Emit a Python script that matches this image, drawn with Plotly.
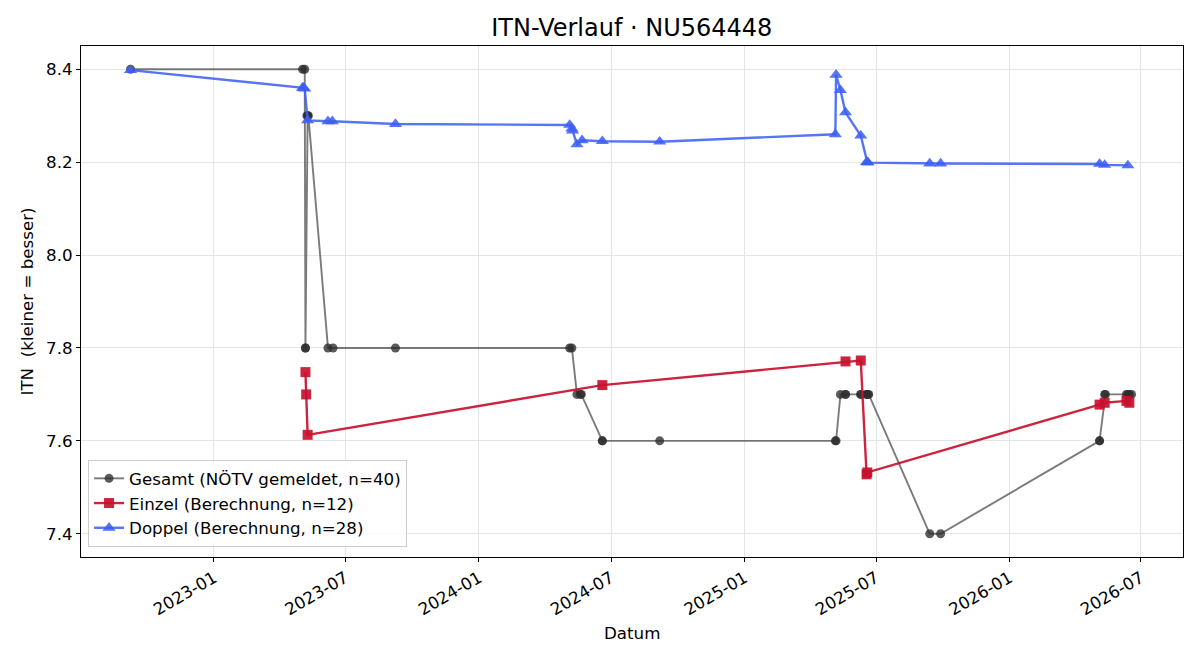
import plotly.graph_objects as go

# ---- data ----
gesamt_dates = [
    "2022-09-08", "2023-05-03", "2023-05-06", "2023-05-07", "2023-05-07",
    "2023-05-09", "2023-05-10", "2023-05-11", "2023-06-07", "2023-06-14",
    "2023-09-08", "2024-05-05", "2024-05-08", "2024-05-15", "2024-05-20",
    "2024-05-21", "2024-06-19", "2024-06-19", "2024-09-06", "2025-05-06",
    "2025-05-07", "2025-05-13", "2025-05-20", "2025-05-20", "2025-06-10",
    "2025-06-10", "2025-06-18", "2025-06-18", "2025-06-20", "2025-06-21",
    "2025-09-13", "2025-09-28", "2026-05-05", "2026-05-05", "2026-05-12",
    "2026-05-13", "2026-06-11", "2026-06-13", "2026-06-15", "2026-06-18",
]
gesamt_itn = [
    8.4, 8.4, 8.4, 7.8, 7.8,
    8.3, 8.3, 8.3, 7.8, 7.8,
    7.8, 7.8, 7.8, 7.7, 7.7,
    7.7, 7.6, 7.6, 7.6, 7.6,
    7.6, 7.7, 7.7, 7.7, 7.7,
    7.7, 7.7, 7.7, 7.7, 7.7,
    7.4, 7.4, 7.6, 7.6, 7.7,
    7.7, 7.7, 7.7, 7.7, 7.7,
]

einzel_dates = [
    "2023-05-07", "2023-05-08", "2023-05-10", "2024-06-19",
    "2025-05-20", "2025-06-10", "2025-06-18", "2025-06-19",
    "2026-05-05", "2026-05-12", "2026-06-11", "2026-06-15",
]
einzel_itn = [
    7.748, 7.700, 7.613, 7.720,
    7.771, 7.773, 7.528, 7.532,
    7.678, 7.682, 7.686, 7.682,
]

doppel_dates = [
    "2022-09-08", "2023-05-03", "2023-05-04", "2023-05-06", "2023-05-10",
    "2023-06-07", "2023-06-13", "2023-09-08", "2024-05-05", "2024-05-08",
    "2024-05-09", "2024-05-15", "2024-05-22", "2024-06-19", "2024-09-06",
    "2025-05-06", "2025-05-07", "2025-05-13", "2025-05-20", "2025-06-10",
    "2025-06-18", "2025-06-19", "2025-06-20", "2025-09-13", "2025-09-28",
    "2026-05-05", "2026-05-12", "2026-06-13",
]
doppel_itn = [
    8.398, 8.360, 8.360, 8.358, 8.290,
    8.288, 8.288, 8.282, 8.280, 8.272,
    8.268, 8.238, 8.247, 8.245, 8.244,
    8.260, 8.388, 8.355, 8.307, 8.257,
    8.200, 8.200, 8.199, 8.197, 8.197,
    8.196, 8.194, 8.193,
]

x_tickvals = ["2023-01-01", "2023-07-01", "2024-01-01", "2024-07-01",
              "2025-01-01", "2025-07-01", "2026-01-01", "2026-07-01"]
x_ticktext = ["2023-01", "2023-07", "2024-01", "2024-07",
              "2025-01", "2025-07", "2026-01", "2026-07"]
y_tickvals = [7.4, 7.6, 7.8, 8.0, 8.2, 8.4]
y_ticktext = ["7.4", "7.6", "7.8", "8.0", "8.2", "8.4"]

FONT = "DejaVu Sans"
FS = 16.7

fig = go.Figure()
fig.add_trace(go.Scatter(
    x=gesamt_dates, y=gesamt_itn, mode="lines+markers",
    name="Gesamt (NÖTV gemeldet, n=40)",
    line=dict(color="rgba(60,60,60,0.68)", width=1.9),
    marker=dict(symbol="circle", size=9, color="rgba(45,45,45,0.78)",
                line=dict(width=0)),
))
fig.add_trace(go.Scatter(
    x=einzel_dates, y=einzel_itn, mode="lines+markers",
    name="Einzel (Berechnung, n=12)",
    line=dict(color="rgba(200,16,46,0.92)", width=2.4),
    marker=dict(symbol="square", size=10, color="rgba(200,16,46,0.92)",
                line=dict(width=0)),
))
fig.add_trace(go.Scatter(
    x=doppel_dates, y=doppel_itn, mode="lines+markers",
    name="Doppel (Berechnung, n=28)",
    line=dict(color="rgba(60,95,245,0.87)", width=2.4),
    marker=dict(symbol="triangle-up", size=11.5, color="rgba(60,95,245,0.87)",
                line=dict(width=0)),
))

fig.update_layout(
    width=1200, height=660,
    margin=dict(l=81, r=17, t=46, b=103),
    plot_bgcolor="white", paper_bgcolor="white",
    font=dict(family=FONT, size=FS, color="black"),
    title=dict(text="ITN-Verlauf · NU564448", x=0.5265, xanchor="center",
               y=1 - 28 / 660, yanchor="middle", yref="container",
               font=dict(family=FONT, size=24, color="black")),
    showlegend=True,
    legend=dict(x=0.0064, y=0.0196, xanchor="left", yanchor="bottom",
                bgcolor="rgba(255,255,255,0.85)", bordercolor="#cccccc",
                borderwidth=1, font=dict(family=FONT, size=FS, color="black"),
                tracegroupgap=0),
    xaxis=dict(
        range=["2022-07-01 19:00", "2026-08-27 22:00"],
        tickmode="array", tickvals=x_tickvals, ticktext=x_ticktext,
        tickangle=-30, tickfont=dict(size=FS),
        showgrid=True, gridcolor="#e5e5e5", gridwidth=1,
        showline=True, mirror=True, linecolor="black", linewidth=1,
        ticks="outside", ticklen=4, tickcolor="black", zeroline=False,
    ),
    yaxis=dict(
        range=[7.35, 8.45],
        tickmode="array", tickvals=y_tickvals, ticktext=y_ticktext,
        tickfont=dict(size=FS),
        showgrid=True, gridcolor="#e5e5e5", gridwidth=1,
        showline=True, mirror=True, linecolor="black", linewidth=1,
        ticks="outside", ticklen=4, tickcolor="black", zeroline=False,
    ),
    annotations=[
        dict(text="Datum", xref="paper", yref="paper", x=0.5, y=-(633 - 557) / 511,
             xanchor="center", yanchor="middle", showarrow=False,
             font=dict(family=FONT, size=FS, color="black")),
        dict(text="ITN\u00a0 (kleiner = besser)", xref="paper", yref="paper",
             x=-(81 - 26) / 1102, y=0.5, xanchor="center", yanchor="middle",
             textangle=-90, showarrow=False,
             font=dict(family=FONT, size=FS, color="black")),
    ],
)

fig.write_html("out.html")
